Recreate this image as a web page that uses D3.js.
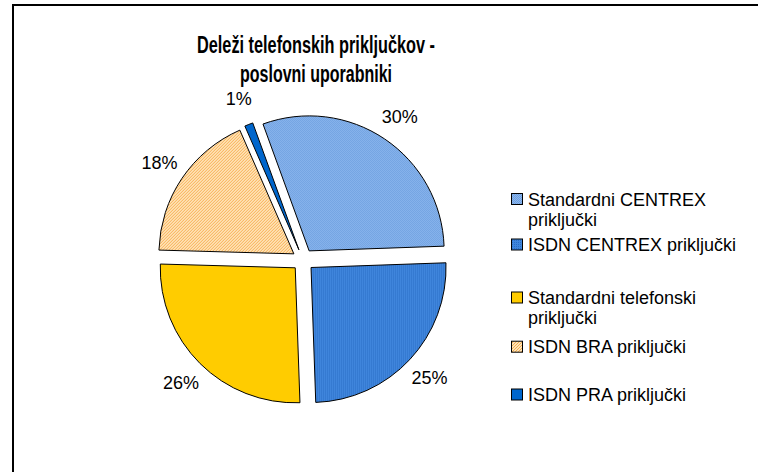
<!DOCTYPE html>
<html>
<head>
<meta charset="utf-8">
<script src="https://cdn.jsdelivr.net/npm/d3@7"></script>
<style>
  html, body { margin: 0; padding: 0; background: #fff; }
  svg { display: block; }
</style>
</head>
<body>
<svg id="chart" width="758" height="472"></svg>
<script>
const titleLines = ["Deleži telefonskih priključkov -", "poslovni uporabniki"];
const categories = [
  "Standardni CENTREX priključki",
  "ISDN CENTREX priključki",
  "Standardni telefonski priključki",
  "ISDN BRA priključki",
  "ISDN PRA priključki"
];
const legendLines = [
  ["Standardni CENTREX", "priključki"],
  ["ISDN CENTREX priključki"],
  ["Standardni telefonski", "priključki"],
  ["ISDN BRA priključki"],
  ["ISDN PRA priključki"]
];
const values = [30, 25, 26, 18, 1];
const labels = ["30%", "25%", "26%", "18%", "1%"];

const svg = d3.select("#chart");
const defs = svg.append("defs");

// patterns
const p1 = defs.append("pattern").attr("id", "pat0").attr("width", 2).attr("height", 2).attr("patternUnits", "userSpaceOnUse");
p1.append("rect").attr("width", 2).attr("height", 2).attr("fill", "#8DB8EE");
p1.append("rect").attr("width", 1).attr("height", 1).attr("fill", "#6E9FE0");
p1.append("rect").attr("x", 1).attr("y", 1).attr("width", 1).attr("height", 1).attr("fill", "#6E9FE0");

const p2 = defs.append("pattern").attr("id", "pat1").attr("width", 2).attr("height", 2).attr("patternUnits", "userSpaceOnUse");
p2.append("rect").attr("width", 2).attr("height", 2).attr("fill", "#3F86DC");
p2.append("rect").attr("width", 1).attr("height", 1).attr("fill", "#2A6CC6");

const p4 = defs.append("pattern").attr("id", "pat3").attr("width", 3).attr("height", 3).attr("patternUnits", "userSpaceOnUse");
p4.append("rect").attr("width", 3).attr("height", 3).attr("fill", "#FFE3B8");
p4.append("rect").attr("x", 0).attr("y", 2).attr("width", 1).attr("height", 1).attr("fill", "#F5AE4E");
p4.append("rect").attr("x", 1).attr("y", 1).attr("width", 1).attr("height", 1).attr("fill", "#F5AE4E");
p4.append("rect").attr("x", 2).attr("y", 0).attr("width", 1).attr("height", 1).attr("fill", "#F5AE4E");

const fills = ["url(#pat0)", "url(#pat1)", "#FFCC00", "url(#pat3)", "#0066CC"];

// frame
svg.append("rect").attr("x", 13).attr("y", 5).attr("width", 800).attr("height", 500)
  .attr("fill", "none").attr("stroke", "#000").attr("stroke-width", 2);

// title (condensed bold, like the reference)
const titleWidths = [238, 152];
const title = svg.append("text")
  .attr("text-anchor", "middle")
  .attr("font-family", "'Liberation Sans Narrow', Arial, 'Liberation Sans', sans-serif")
  .attr("font-weight", "bold").attr("font-size", 23).attr("fill", "#000");
titleLines.forEach((t, i) => {
  title.append("tspan").attr("x", 316).attr("y", 53 + i * 29)
    .attr("textLength", titleWidths[i]).attr("lengthAdjust", "spacingAndGlyphs").text(t);
});

// pie
const cx = 303, cy = 260, r = 135, explode = 11, labelR = 173;
const start = -20 * Math.PI / 180;
const pie = d3.pie().sort(null).startAngle(start).endAngle(start + 2 * Math.PI);
const arcs = pie(values);
const arc = d3.arc().innerRadius(0).outerRadius(r);
const g = svg.append("g").attr("transform", `translate(${cx},${cy})`);

g.selectAll("path").data(arcs).join("path")
  .attr("d", arc)
  .attr("transform", d => {
    const a = (d.startAngle + d.endAngle) / 2;
    return `translate(${explode * Math.sin(a)},${-explode * Math.cos(a)})`;
  })
  .attr("fill", (d, i) => fills[i])
  .attr("stroke", "#000").attr("stroke-width", 1).attr("stroke-linejoin", "round");

g.selectAll("text.lbl").data(arcs).join("text").attr("class", "lbl")
  .attr("x", d => labelR * Math.sin((d.startAngle + d.endAngle) / 2))
  .attr("y", d => -labelR * Math.cos((d.startAngle + d.endAngle) / 2))
  .attr("text-anchor", "middle").attr("dominant-baseline", "central")
  .attr("font-family", "Arial, 'Liberation Sans', sans-serif").attr("font-size", 18)
  .text((d, i) => labels[i]);

// legend
const legendY = [199, 244.5, 297.5, 346.7, 394.5];
const leg = svg.append("g");
categories.forEach((c, i) => {
  const y = legendY[i];
  leg.append("rect").attr("x", 511.5).attr("y", y - 5.5).attr("width", 11).attr("height", 11)
    .attr("fill", fills[i]).attr("stroke", "#000").attr("stroke-width", 1);
  const t = leg.append("text").attr("font-family", "Arial, 'Liberation Sans', sans-serif")
    .attr("font-size", 18).attr("fill", "#000");
  legendLines[i].forEach((ln, j) => {
    t.append("tspan").attr("x", 528).attr("y", y + 6.5 + j * 20).text(ln);
  });
});
</script>
</body>
</html>
